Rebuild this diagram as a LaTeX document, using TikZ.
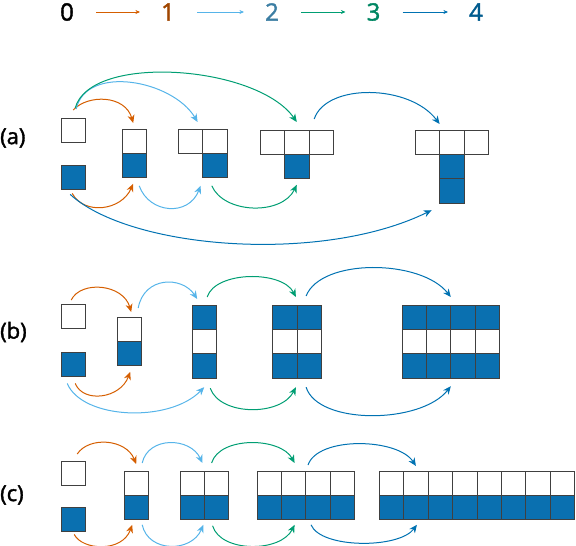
\documentclass[tikz,border=0pt]{standalone}
\usepackage{fontspec}
\setmainfont{Open Sans}
\newfontfamily\heavyfont[FakeBold=1.6]{Open Sans}
\usetikzlibrary{arrows.meta}
\definecolor{vermil}{RGB}{213,94,0}
\definecolor{skyb}{RGB}{86,180,233}
\definecolor{bgreen}{RGB}{0,158,115}
\definecolor{deepb}{RGB}{0,114,178}
\definecolor{cellb}{RGB}{10,112,176}
\tikzstyle{cell}=[draw=black!75,line width=0.8pt,minimum size=24.4pt,inner sep=0pt,outer sep=0pt]
\tikzstyle{empty cell}=[cell,fill=white]
\tikzstyle{full cell}=[cell,fill=cellb]
\tikzstyle{hop}=[-{Stealth[length=8pt,width=7pt,inset=2.5pt]},line width=1pt]
\tikzstyle{hop1}=[hop,color=vermil]
\tikzstyle{hop2}=[hop,color=skyb]
\tikzstyle{hop3}=[hop,color=bgreen]
\tikzstyle{hop4}=[hop,color=deepb]

\begin{document}
\begin{tikzpicture}[x=1pt,y=1pt]
        \tikzstyle{digit}=[inner sep=0pt,font=\heavyfont\fontsize{24}{28}\selectfont]
        \tikzstyle{panel}=[inner sep=0pt,anchor=west,font=\heavyfont\fontsize{22}{26}\selectfont]
        \tikzstyle{legend hop}=[-{Stealth[length=4.5pt,width=4pt]},line width=0.6pt,
        shorten <=22pt,shorten >=21pt]
        \useasboundingbox (0,0) rectangle (576,-546);
        % Legend:
        \node (l0) [digit,text=black] at (67,-12) {0};
        \node (l1) [digit,text=vermil!75!black] at (168,-12) {1};
        \node (l2) [digit,text=skyb!70!black] at (272,-12) {2};
        \node (l3) [digit,text=bgreen!85!black] at (373.5,-12) {3};
        \node (l4) [digit,text=deepb!80!black] at (476,-12) {4};
        \draw[legend hop,color=vermil] (l0) -- (l1);
        \draw[legend hop,color=skyb] (l1) -- (l2);
        \draw[legend hop,color=bgreen] (l2) -- (l3);
        \draw[legend hop,color=deepb] (l3) -- (l4);

        % Panel (a):
        \node (la) [panel] at (0,-138) {(a)};
        \node (a0_11) [empty cell] at (73.2,-130.2) {};
        \node (a0_21) [full cell] at (73.2,-177.2) {};
        \node (a1_11) [empty cell] at (134.2,-141.2) {};
        \node (a1_21) [full cell] at (134.2,-165.6) {};
        \node (a2_11) [empty cell] at (190.4,-141.2) {};
        \node (a2_12) [empty cell] at (214.8,-141.2) {};
        \node (a2_22) [full cell] at (214.8,-165.6) {};
        \node (a3_11) [empty cell] at (272.4,-142.2) {};
        \node (a3_12) [empty cell] at (296.8,-142.2) {};
        \node (a3_13) [empty cell] at (321.2,-142.2) {};
        \node (a3_22) [full cell] at (296.8,-166.6) {};
        \node (a4_11) [empty cell] at (427.4,-142.2) {};
        \node (a4_12) [empty cell] at (451.8,-142.2) {};
        \node (a4_13) [empty cell] at (476.2,-142.2) {};
        \node (a4_22) [full cell] at (451.8,-166.6) {};
        \node (a4_32) [full cell] at (451.8,-191) {};

        \draw[hop1] ([yshift=8pt]a0_11.north) .. controls +(15,16) and +(-8,28) .. ([xshift=-1pt,yshift=6pt]a1_11.north);
        \draw[hop2] ([xshift=3pt,yshift=9pt]a0_11.north) .. controls +(10,45) and +(-25,42) .. ([xshift=-5pt,yshift=7pt]a2_11.north east);
        \draw[hop3] ([xshift=2pt,yshift=10pt]a0_11.north) .. controls +(15,55) and +(-40,57) .. ([yshift=8pt]a3_12.north);
        \draw[hop4] ([xshift=-7pt,yshift=11pt]a3_13.north) .. controls +(12,36) and +(-30,40) .. ([yshift=6pt]a4_12.north west);
        \draw[hop1] ([xshift=-1pt,yshift=-4pt]a0_21.south) .. controls +(12,-22) and +(-12,-27) .. ([xshift=-1pt,yshift=-6pt]a1_21.south);
        \draw[hop2] ([xshift=5pt,yshift=-8pt]a1_21.south) .. controls +(10,-28) and +(-12,-31) .. ([xshift=-2pt,yshift=-8pt]a2_22.south west);
        \draw[hop3] ([xshift=-3pt,yshift=-8pt]a2_22.south) .. controls +(12,-28) and +(-15,-31) .. ([yshift=-6pt]a3_22.south);
        \draw[hop4] ([xshift=-3pt,yshift=-5pt]a0_21.south) .. controls +(60,-55) and +(-110,-54) .. ([xshift=-8pt,yshift=-7pt]a4_32.south west);

        % Panel (b):
        \node (lb) [panel] at (0,-332) {(b)};
        \node (b0_11) [empty cell] at (73.2,-316.2) {};
        \node (b0_21) [full cell] at (73.2,-364.2) {};
        \node (b1_11) [empty cell] at (129.2,-329.2) {};
        \node (b1_21) [full cell] at (129.2,-353.6) {};
        \node (b2_11) [full cell] at (204.2,-317.2) {};
        \node (b2_21) [empty cell] at (204.2,-341.6) {};
        \node (b2_31) [full cell] at (204.2,-366) {};
        \node (b3_11) [full cell] at (284.7,-317.2) {};
        \node (b3_12) [full cell] at (309.1,-317.2) {};
        \node (b3_21) [empty cell] at (284.7,-341.6) {};
        \node (b3_22) [empty cell] at (309.1,-341.6) {};
        \node (b3_31) [full cell] at (284.7,-366) {};
        \node (b3_32) [full cell] at (309.1,-366) {};
        \node (b4_11) [full cell] at (414.2,-317.2) {};
        \node (b4_12) [full cell] at (438.6,-317.2) {};
        \node (b4_13) [full cell] at (463,-317.2) {};
        \node (b4_14) [full cell] at (487.4,-317.2) {};
        \node (b4_21) [empty cell] at (414.2,-341.6) {};
        \node (b4_22) [empty cell] at (438.6,-341.6) {};
        \node (b4_23) [empty cell] at (463,-341.6) {};
        \node (b4_24) [empty cell] at (487.4,-341.6) {};
        \node (b4_31) [full cell] at (414.2,-366) {};
        \node (b4_32) [full cell] at (438.6,-366) {};
        \node (b4_33) [full cell] at (463,-366) {};
        \node (b4_34) [full cell] at (487.4,-366) {};

        \draw[hop1] ([xshift=-2pt,yshift=4pt]b0_11.north) .. controls +(10,20) and +(-8,28) .. ([xshift=2pt,yshift=5pt]b1_11.north);
        \draw[hop2] ([xshift=9pt,yshift=9pt]b1_11.north) .. controls +(6,32) and +(-15,23) .. ([xshift=-7pt,yshift=6pt]b2_11.north);
        \draw[hop3] ([xshift=3pt,yshift=8pt]b2_11.north) .. controls +(8,26) and +(-14,27) .. ([xshift=-1pt,yshift=8pt]b3_11.north east);
        \draw[hop4] ([xshift=-3pt,yshift=9pt]b3_12.north) .. controls +(15,38) and +(-30,38) .. ([yshift=8pt]b4_12.north east);
        \draw[hop1] ([xshift=2pt,yshift=-7pt]b0_21.south) .. controls +(8,-20) and +(-10,-27) .. ([xshift=1pt,yshift=-6pt]b1_21.south);
        \draw[hop2] ([xshift=-6pt,yshift=-7pt]b0_21.south) .. controls +(15,-36) and +(-35,-36) .. ([yshift=-9pt]b2_31.south);
        \draw[hop3] ([xshift=6pt,yshift=-10pt]b2_31.south) .. controls +(10,-28) and +(-15,-29) .. ([xshift=-1pt,yshift=-9pt]b3_31.south east);
        \draw[hop4] ([xshift=-3pt,yshift=-9pt]b3_32.south) .. controls +(12,-38) and +(-30,-38) .. ([yshift=-8pt]b4_32.south east);

        % Panel (c):
        \node (lc) [panel] at (0,-495) {(c)};
        \node (c0_11) [empty cell] at (73.2,-473.2) {};
        \node (c0_21) [full cell] at (73.2,-519.2) {};
        \node (c1_11) [empty cell] at (136.2,-483.2) {};
        \node (c1_21) [full cell] at (136.2,-507.6) {};
        \node (c2_11) [empty cell] at (192.2,-483.2) {};
        \node (c2_12) [empty cell] at (216.6,-483.2) {};
        \node (c2_21) [full cell] at (192.2,-507.6) {};
        \node (c2_22) [full cell] at (216.6,-507.6) {};
        \node (c3_11) [empty cell] at (269.2,-483.2) {};
        \node (c3_12) [empty cell] at (293.6,-483.2) {};
        \node (c3_13) [empty cell] at (318,-483.2) {};
        \node (c3_14) [empty cell] at (342.4,-483.2) {};
        \node (c3_21) [full cell] at (269.2,-507.6) {};
        \node (c3_22) [full cell] at (293.6,-507.6) {};
        \node (c3_23) [full cell] at (318,-507.6) {};
        \node (c3_24) [full cell] at (342.4,-507.6) {};
        \node (c4_11) [empty cell] at (391.5,-483.2) {};
        \node (c4_12) [empty cell] at (415.9,-483.2) {};
        \node (c4_13) [empty cell] at (440.3,-483.2) {};
        \node (c4_14) [empty cell] at (464.7,-483.2) {};
        \node (c4_15) [empty cell] at (489.1,-483.2) {};
        \node (c4_16) [empty cell] at (513.5,-483.2) {};
        \node (c4_17) [empty cell] at (537.9,-483.2) {};
        \node (c4_18) [empty cell] at (562.3,-483.2) {};
        \node (c4_21) [full cell] at (391.5,-507.6) {};
        \node (c4_22) [full cell] at (415.9,-507.6) {};
        \node (c4_23) [full cell] at (440.3,-507.6) {};
        \node (c4_24) [full cell] at (464.7,-507.6) {};
        \node (c4_25) [full cell] at (489.1,-507.6) {};
        \node (c4_26) [full cell] at (513.5,-507.6) {};
        \node (c4_27) [full cell] at (537.9,-507.6) {};
        \node (c4_28) [full cell] at (562.3,-507.6) {};

        \draw[hop1] ([xshift=4pt,yshift=7pt]c0_11.north) .. controls +(12,18) and +(-10,25) .. ([yshift=7pt]c1_11.north);
        \draw[hop2] ([xshift=6pt,yshift=8pt]c1_11.north) .. controls +(6,27) and +(-12,26) .. ([xshift=-2pt,yshift=8pt]c2_11.north east);
        \draw[hop3] ([xshift=-5pt,yshift=8pt]c2_12.north) .. controls +(8,27) and +(-14,26) .. ([xshift=1pt,yshift=8pt]c3_12.north);
        \draw[hop4] ([xshift=-10pt,yshift=6pt]c3_13.north) .. controls +(10,29) and +(-18,28) .. ([yshift=5pt]c4_12.north);
        \draw[hop1] ([xshift=1pt,yshift=-3pt]c0_21.south) .. controls +(8,-16) and +(-10,-28) .. ([xshift=-4pt,yshift=-5pt]c1_21.south);
        \draw[hop2] ([xshift=6pt,yshift=-5pt]c1_21.south) .. controls +(6,-28) and +(-12,-28) .. ([xshift=-1pt,yshift=-5pt]c2_21.south east);
        \draw[hop3] ([xshift=-4pt,yshift=-6pt]c2_22.south) .. controls +(8,-27) and +(-14,-28) .. ([xshift=1pt,yshift=-5pt]c3_22.south);
        \draw[hop4] ([xshift=-7pt,yshift=-5pt]c3_23.south) .. controls +(10,-24) and +(-18,-24) .. ([xshift=1pt,yshift=-5pt]c4_22.south);
\end{tikzpicture}
\end{document}
